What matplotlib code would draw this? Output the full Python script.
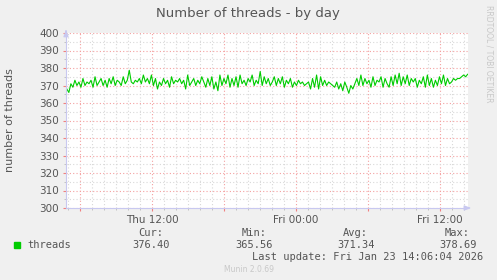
import matplotlib
matplotlib.use("Agg")
import matplotlib.pyplot as plt
import numpy as np
from matplotlib.ticker import MultipleLocator, FixedLocator

# ---- data ----
title = "Number of threads - by day"
ylabel = "number of threads"
series_name = "threads"
threads = [
    368, 366, 371, 369, 373, 370, 372, 369, 374, 370, 372, 371, 373, 369, 375, 370, 372, 374, 370, 373,
    369, 374, 371, 375, 370, 373, 372, 370, 375, 371, 373, 378.69, 372, 371, 373, 372, 374, 371, 376, 372,
    374, 371, 376, 370, 374, 368, 372, 370, 374, 371, 373, 369, 375, 371, 373, 372, 374, 371, 373, 368,
    376, 370, 372, 374, 370, 373, 371, 375, 372, 369, 374, 370, 375, 368, 372, 367, 376, 370, 374, 371,
    376, 369, 374, 370, 375, 369, 376, 371, 373, 370, 374, 372, 376, 370, 373, 371, 378, 370, 375, 371,
    374, 370, 372, 375, 370, 374, 371, 375, 369, 373, 371, 374, 369, 372, 370, 373, 371, 372, 370, 371,
    372, 368, 374, 369, 376, 368, 375, 370, 373, 370, 372, 371, 370, 369, 372, 368, 371, 367, 372, 369,
    365.56, 370, 368, 371, 374, 370, 376, 370, 374, 371, 373, 369, 375, 370, 373, 372, 375, 369, 374, 371,
    369, 375, 370, 376, 371, 377, 370, 375, 371, 376, 370, 374, 372, 374, 369, 373, 371, 375, 369, 376,
    370, 374, 369, 373, 370, 375, 371, 376, 370, 374, 371, 372, 374, 373, 374, 374, 375, 376, 375, 376.4,
]
t_start, t_end = 4.9, 38.3   # hours since Thu 00:00
xtick_pos = [12, 24, 36]
xtick_labels = ["Thu 12:00", "Fri 00:00", "Fri 12:00"]
stats_labels = ["Cur:", "Min:", "Avg:", "Max:"]
stats_values = ["376.40", "365.56", "371.34", "378.69"]
last_update = "Last update: Fri Jan 23 14:06:04 2026"

t = np.linspace(t_start, t_end, len(threads))

W, H = 497, 280
fig = plt.figure(figsize=(W / 100, H / 100), dpi=100)
fig.patch.set_facecolor("#F0F0F0")

L, R, T, B = 66, 468, 33, 208
ax = fig.add_axes([L / W, 1 - B / H, (R - L) / W, (B - T) / H])
ax.set_facecolor("white")
ax.plot(t, threads, color="#00CC00", lw=0.8)
ax.set_xlim(4.83, 38.33)
ax.set_ylim(300, 400)

ax.yaxis.set_major_locator(MultipleLocator(10))
ax.yaxis.set_minor_locator(MultipleLocator(5))
ax.xaxis.set_minor_locator(MultipleLocator(1))
ax.set_xticks([6, 12, 18, 24, 30, 36])
ax.set_xticklabels(["", xtick_labels[0], "", xtick_labels[1], "", xtick_labels[2]])

ax.grid(which="minor", color="#D8D8D8", ls=(0, (1, 2)), lw=0.8)
ax.grid(which="major", color="#F4A0A0", ls=(0, (1, 2)), lw=0.8)
ax.set_axisbelow(True)

for s in ["top", "right"]:
    ax.spines[s].set_visible(False)
for s in ["left", "bottom"]:
    ax.spines[s].set_color("#C8C8F0")
    ax.spines[s].set_linewidth(0.8)

ax.tick_params(which="major", length=2, width=0.8, color="#F08080",
               labelsize=7.5, labelcolor="#555555", pad=3)
ax.tick_params(which="minor", length=1.5, width=0.6, color="#BBBBBB")

ax.annotate("", xy=(0, 1.035), xytext=(0, 0.99), xycoords="axes fraction",
            arrowprops=dict(arrowstyle="-|>,head_width=0.15,head_length=0.4",
                            color="#C8C8F0", lw=0.8))
ax.annotate("", xy=(1.015, 0), xytext=(0.99, 0), xycoords="axes fraction",
            arrowprops=dict(arrowstyle="-|>,head_width=0.15,head_length=0.4",
                            color="#C8C8F0", lw=0.8))

def px(x, y):
    return x / W, 1 - y / H

fig.text(*px(248, 13), title, ha="center", va="center", fontsize=9.5, color="#555555")
fig.text(*px(10, 120), ylabel, ha="center", va="center", rotation=90,
         fontsize=8, color="#555555")
fig.text(*px(489, 5), "RRDTOOL / TOBI OETIKER", ha="center", va="top",
         rotation=270, fontsize=5.5, color="#C8C8C8")

mono = "DejaVu Sans Mono"
rights = [163, 267, 368, 470]
vrights = [170, 273, 375, 477]
for lab, val, r1, r2 in zip(stats_labels, stats_values, rights, vrights):
    fig.text(*px(r1, 233), lab, ha="right", va="center", fontsize=7.5,
             family=mono, color="#555555")
    fig.text(*px(r2, 244.5), val, ha="right", va="center", fontsize=7.5,
             family=mono, color="#555555")
fig.patches.append(plt.Rectangle(px(14, 247.5), 6 / W, 6 / H, transform=fig.transFigure,
                                 color="#00CC00", figure=fig))
fig.text(*px(27, 244.5), series_name, ha="left", va="center", fontsize=7.5,
         family=mono, color="#555555")
fig.text(*px(483, 256.5), last_update, ha="right", va="center", fontsize=7.5,
         family=mono, color="#555555")
fig.text(*px(249, 269), "Munin 2.0.69", ha="center", va="center", fontsize=5.5,
         color="#C8C8C8")

fig.savefig("out.png", dpi=100, facecolor=fig.get_facecolor())
